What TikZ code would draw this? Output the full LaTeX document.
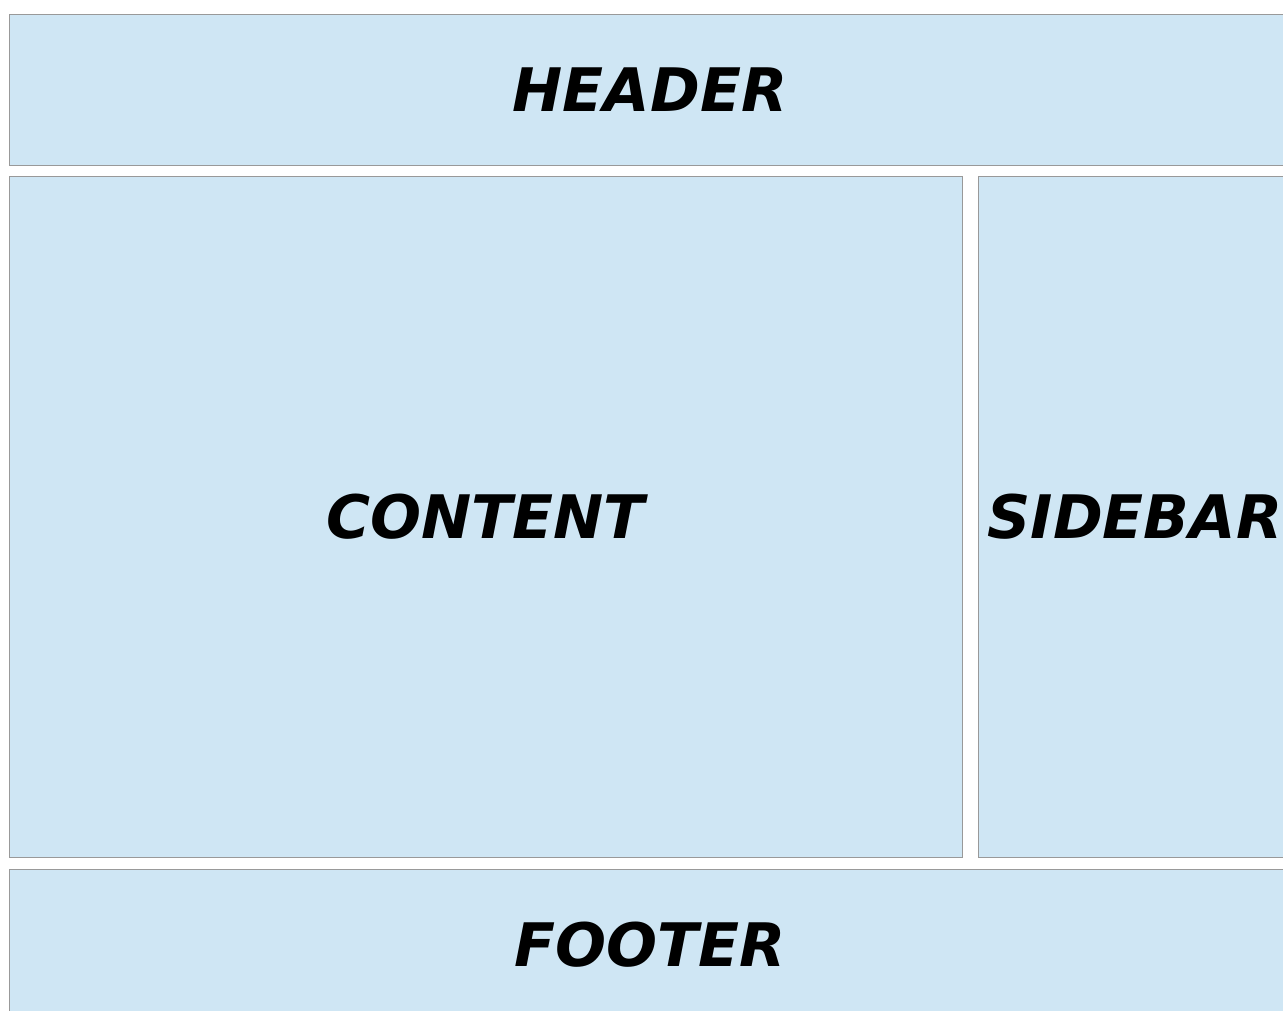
\documentclass[tikz,border=0pt]{standalone}
\usepackage{fontspec}
\setmainfont{DejaVu Sans}
\usepackage{tikz}
\usetikzlibrary{positioning}
\definecolor{panelfill}{HTML}{CFE6F4}
\definecolor{panelline}{HTML}{999999}
\tikzset{
    panel/.style={draw=panelline, fill=panelfill, line width=1pt, inner sep=0pt,
        font=\fontsize{60}{60}\selectfont\bfseries\itshape},
}
\begin{document}
\begin{tikzpicture}[x=1pt,y=-1pt]
                \useasboundingbox (0,0) rectangle (1283,1010);
                \clip (0,0) rectangle (1283,1010);
                \node[panel, minimum width=1282pt, minimum height=151pt] (header) at (650,89.5) {HEADER};
                \node[panel, minimum width=953pt, minimum height=681pt] (content) at (485.5,516.5) {CONTENT};
                \node[panel, minimum width=314pt, minimum height=681pt] (sidebar) at (1135,516.5) {SIDEBAR};
                \node[panel, minimum width=1282pt, minimum height=151pt] (footer) at (650,944.5) {FOOTER};
            \end{tikzpicture}
\end{document}
